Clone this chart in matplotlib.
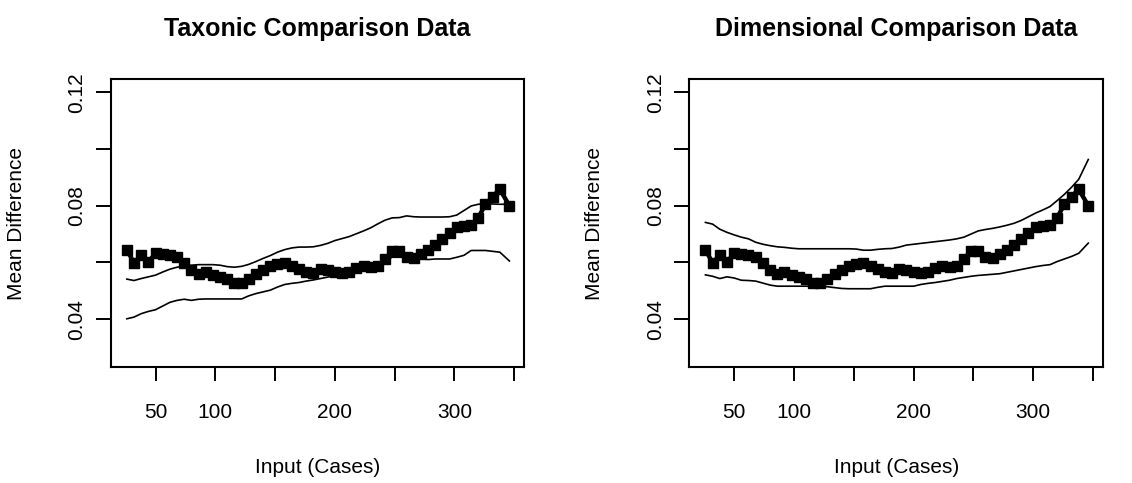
import matplotlib
matplotlib.use('Agg')
import matplotlib.pyplot as plt

plt.rcParams['font.family'] = ['Liberation Sans', 'DejaVu Sans']

# input sizes (cases)
cases = [26, 32, 38, 44, 50, 56, 62, 68, 74, 80, 86, 92, 98, 104, 110, 116, 122,
         128, 134, 140, 146, 152, 158, 164, 170, 176, 182, 188, 194, 200, 206,
         212, 218, 224, 230, 236, 242, 248, 254, 260, 266, 272, 278, 284, 290,
         296, 302, 308, 314, 320, 326, 332, 338, 346]

# observed mean difference (same in both panels)
mean_diff = [0.0645, 0.0598, 0.0625, 0.0601, 0.0632, 0.0631, 0.0626, 0.0618, 0.0598,
             0.0572, 0.0560, 0.0565, 0.0555, 0.0550, 0.0543, 0.0528, 0.0526, 0.0543,
             0.0558, 0.0573, 0.0586, 0.0594, 0.0597, 0.0589, 0.0575, 0.0565, 0.0564,
             0.0578, 0.0574, 0.0567, 0.0563, 0.0566, 0.0580, 0.0588, 0.0585, 0.0586,
             0.0612, 0.0640, 0.0640, 0.0620, 0.0615, 0.0628, 0.0645, 0.0662, 0.0683,
             0.0703, 0.0724, 0.0730, 0.0731, 0.0758, 0.0805, 0.0832, 0.0858, 0.0800]

# taxonic comparison band
tax_upper = [0.0541, 0.0536, 0.0543, 0.0549, 0.0555, 0.0566, 0.0576, 0.0583, 0.0587,
             0.0590, 0.0592, 0.0592, 0.0592, 0.0590, 0.0585, 0.0583, 0.0586, 0.0593,
             0.0603, 0.0614, 0.0624, 0.0636, 0.0645, 0.0651, 0.0654, 0.0654, 0.0655,
             0.0660, 0.0667, 0.0677, 0.0684, 0.0691, 0.0701, 0.0711, 0.0722, 0.0736,
             0.0749, 0.0757, 0.0758, 0.0764, 0.0761, 0.0760, 0.0760, 0.0760, 0.0760,
             0.0761, 0.0767, 0.0783, 0.0799, 0.0805, 0.0807, 0.0806, 0.0805, 0.0805]
tax_lower = [0.0401, 0.0407, 0.0419, 0.0427, 0.0433, 0.0446, 0.0459, 0.0466, 0.0470,
             0.0466, 0.0470, 0.0471, 0.0471, 0.0471, 0.0471, 0.0471, 0.0471, 0.0482,
             0.0490, 0.0496, 0.0502, 0.0513, 0.0522, 0.0526, 0.0529, 0.0534, 0.0538,
             0.0543, 0.0548, 0.0554, 0.0558, 0.0563, 0.0569, 0.0578, 0.0586, 0.0597,
             0.0608, 0.0618, 0.0618, 0.0618, 0.0617, 0.0613, 0.0610, 0.0612, 0.0612,
             0.0612, 0.0618, 0.0625, 0.0642, 0.0642, 0.0642, 0.0639, 0.0636, 0.0605]

# dimensional comparison band
dim_upper = [0.0741, 0.0735, 0.0717, 0.0706, 0.0697, 0.0689, 0.0683, 0.0671, 0.0664,
             0.0659, 0.0655, 0.0653, 0.0650, 0.0648, 0.0648, 0.0648, 0.0648, 0.0648,
             0.0648, 0.0648, 0.0648, 0.0647, 0.0643, 0.0643, 0.0646, 0.0648, 0.0649,
             0.0654, 0.0661, 0.0664, 0.0667, 0.0670, 0.0673, 0.0676, 0.0679, 0.0683,
             0.0689, 0.0700, 0.0711, 0.0716, 0.0720, 0.0725, 0.0731, 0.0738, 0.0748,
             0.0761, 0.0774, 0.0785, 0.0797, 0.0818, 0.0840, 0.0865, 0.0893, 0.0963]
dim_lower = [0.0556, 0.0551, 0.0543, 0.0549, 0.0545, 0.0537, 0.0536, 0.0534, 0.0527,
             0.0520, 0.0516, 0.0516, 0.0516, 0.0516, 0.0516, 0.0516, 0.0516, 0.0514,
             0.0511, 0.0508, 0.0507, 0.0507, 0.0507, 0.0507, 0.0512, 0.0516, 0.0516,
             0.0516, 0.0516, 0.0516, 0.0522, 0.0526, 0.0529, 0.0533, 0.0537, 0.0543,
             0.0547, 0.0551, 0.0554, 0.0556, 0.0558, 0.0560, 0.0565, 0.0570, 0.0575,
             0.0580, 0.0585, 0.0589, 0.0592, 0.0603, 0.0612, 0.0621, 0.0632, 0.0668]

titles = ["Taxonic Comparison Data", "Dimensional Comparison Data"]
x_ticks = [50, 100, 150, 200, 250, 300, 350]
x_ticklabels = ["50", "100", "", "200", "", "300", ""]
y_ticks = [0.04, 0.06, 0.08, 0.10, 0.12]
y_ticklabels = ["0.04", "", "0.08", "", "0.12"]

fig = plt.figure(figsize=(11.32, 4.83), dpi=100)
ax1 = fig.add_axes([0.0978, 0.2402, 0.3654, 0.5957])
ax2 = fig.add_axes([0.6089, 0.2402, 0.3657, 0.5957])

panels = [(ax1, titles[0], tax_upper, tax_lower), (ax2, titles[1], dim_upper, dim_lower)]
for ax, title, upper, lower in panels:
    ax.plot(cases, upper, color="black", lw=1.2)
    ax.plot(cases, lower, color="black", lw=1.2)
    ax.plot(cases, mean_diff, color="black", lw=3.2, marker="s", ms=6.5)

    ax.set_xlim(12.5, 358.5)
    ax.set_ylim(0.0231, 0.1246)
    ax.set_xticks(x_ticks)
    ax.set_xticklabels(x_ticklabels)
    ax.set_yticks(y_ticks)
    ax.set_yticklabels(y_ticklabels, rotation=90, va="center")
    ax.tick_params(axis="x", length=10, width=1.4, pad=16, labelsize=15)
    ax.tick_params(axis="y", length=10.5, width=1.4, pad=7, labelsize=15)
    for s in ax.spines.values():
        s.set_linewidth(1.5)

    ax.set_xlabel("Input (Cases)", fontsize=15)
    ax.xaxis.set_label_coords(0.5, -0.315)
    ax.set_ylabel("Mean Difference", fontsize=15)
    ax.yaxis.set_label_coords(-0.205, 0.5)
    ax.text(0.5, 1.175, title, transform=ax.transAxes, ha="center", va="center",
            fontsize=18, fontweight="bold")

plt.savefig("out.png", dpi=100)
